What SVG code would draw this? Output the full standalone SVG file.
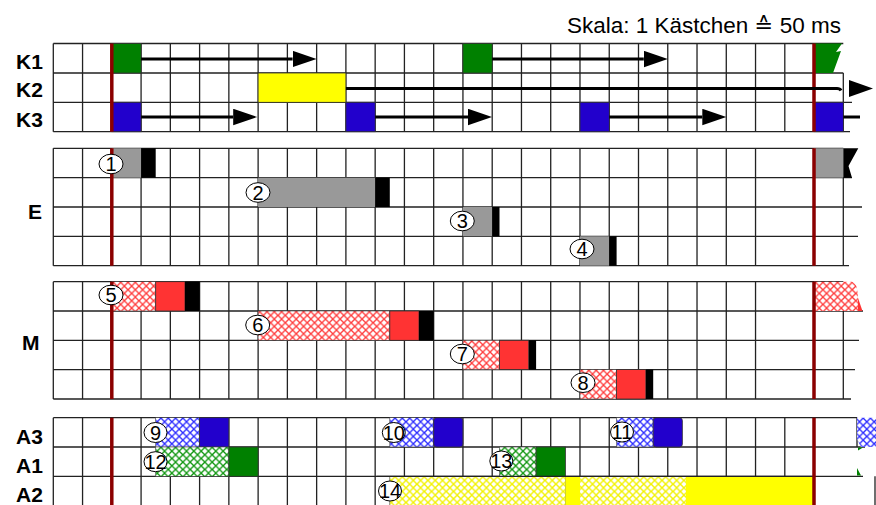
<svg xmlns="http://www.w3.org/2000/svg" width="876" height="505" viewBox="0 0 876 505">
<style>
.g{fill:none;stroke:#222;stroke-width:1.3}
.lbl{font-family:"Liberation Sans",Arial,sans-serif;font-weight:bold;font-size:21px;fill:#000}
.num{font-family:"Liberation Sans",Arial,sans-serif;font-size:20px;fill:#000;text-anchor:middle}
.circ{fill:#fff;stroke:#000;stroke-width:1}
.red{stroke:#8b0000;stroke-width:3.5;fill:none}
.arr{stroke:#000;stroke-width:3;fill:none}
.blk{stroke:#333;stroke-width:0.8}
.hat{stroke:#444;stroke-width:0.6}
.gn{fill:#008000}.bl{fill:#2200cc}.yl{fill:#ffff00}.gy{fill:#999999}.bk{fill:#000}.rd{fill:#ff3333}
</style>
<defs>
<marker id="ah" markerUnits="userSpaceOnUse" markerWidth="25" markerHeight="17" refX="0" refY="8.25" orient="auto"><path d="M0,0L24,8.25L0,16.5z" fill="#000"/></marker>
<pattern id="hr" patternUnits="userSpaceOnUse" width="7.315" height="7.335"><rect width="7.315" height="7.335" fill="#fff"/><path d="M0,0L7.315,7.335M7.315,0L0,7.335" stroke="#ff3b3b" stroke-width="1.3"/></pattern>
<pattern id="hb" patternUnits="userSpaceOnUse" width="7.315" height="7.335"><rect width="7.315" height="7.335" fill="#fff"/><path d="M0,0L7.315,7.335M7.315,0L0,7.335" stroke="#2a2aff" stroke-width="1.3"/></pattern>
<pattern id="hg" patternUnits="userSpaceOnUse" width="7.315" height="7.335"><rect width="7.315" height="7.335" fill="#fff"/><path d="M0,0L7.315,7.335M7.315,0L0,7.335" stroke="#0e960e" stroke-width="1.3"/></pattern>
<pattern id="hy" patternUnits="userSpaceOnUse" width="7.315" height="7.335"><rect width="7.315" height="7.335" fill="#fff"/><path d="M0,0L7.315,7.335M7.315,0L0,7.335" stroke="#f2f200" stroke-width="1.4"/></pattern>
</defs>
<rect width="876" height="505" fill="#fff"/>

<text x="567" y="33" font-family="Liberation Sans, DejaVu Sans, sans-serif" font-size="22.5" fill="#000">Skala: 1 Kästchen ≙ 50 ms</text>

<g id="labels">
<text class="lbl" x="16" y="68.5">K1</text>
<text class="lbl" x="16" y="97">K2</text>
<text class="lbl" x="16" y="126.5">K3</text>
<text class="lbl" x="28" y="218.5">E</text>
<text class="lbl" x="22" y="350">M</text>
<text class="lbl" x="16" y="444">A3</text>
<text class="lbl" x="16" y="473">A1</text>
<text class="lbl" x="16" y="501.5">A2</text>
</g>

<g id="grid">
<path class="g" d="M53.3,43.5H843.3M53.3,73H843.3M53.3,102.3H852M53.3,131.7H850
M53.3,43.5v88.2m29.26,-88.2v88.2m29.26,-88.2v88.2m29.26,-88.2v88.2m29.26,-88.2v88.2m29.26,-88.2v88.2m29.26,-88.2v88.2m29.26,-88.2v88.2m29.26,-88.2v88.2m29.26,-88.2v88.2m29.26,-88.2v88.2m29.26,-88.2v88.2m29.26,-88.2v88.2m29.26,-88.2v88.2m29.26,-88.2v88.2m29.26,-88.2v88.2m29.26,-88.2v88.2m29.26,-88.2v88.2m29.26,-88.2v88.2m29.26,-88.2v88.2m29.26,-88.2v88.2m29.26,-88.2v88.2m29.26,-88.2v88.2m29.26,-88.2v88.2m29.26,-88.2v88.2m29.26,-88.2v88.2M843.3,73V131.7"/>
<path class="g" d="M53.3,148.3H843.3M53.3,177.7H852M53.3,207H862M53.3,236.3H858M53.3,265.7H849
M53.3,148.3v117.4m29.26,-117.4v117.4m29.26,-117.4v117.4m29.26,-117.4v117.4m29.26,-117.4v117.4m29.26,-117.4v117.4m29.26,-117.4v117.4m29.26,-117.4v117.4m29.26,-117.4v117.4m29.26,-117.4v117.4m29.26,-117.4v117.4m29.26,-117.4v117.4m29.26,-117.4v117.4m29.26,-117.4v117.4m29.26,-117.4v117.4m29.26,-117.4v117.4m29.26,-117.4v117.4m29.26,-117.4v117.4m29.26,-117.4v117.4m29.26,-117.4v117.4m29.26,-117.4v117.4m29.26,-117.4v117.4m29.26,-117.4v117.4m29.26,-117.4v117.4m29.26,-117.4v117.4M843.3,177.7V265.7"/>
<path class="g" d="M53.3,281.7H843.3M53.3,311H863M53.3,340.3H859M53.3,369.6H855M53.3,399H851
M53.3,281.7v117.3m29.26,-117.3v117.3m29.26,-117.3v117.3m29.26,-117.3v117.3m29.26,-117.3v117.3m29.26,-117.3v117.3m29.26,-117.3v117.3m29.26,-117.3v117.3m29.26,-117.3v117.3m29.26,-117.3v117.3m29.26,-117.3v117.3m29.26,-117.3v117.3m29.26,-117.3v117.3m29.26,-117.3v117.3m29.26,-117.3v117.3m29.26,-117.3v117.3m29.26,-117.3v117.3m29.26,-117.3v117.3m29.26,-117.3v117.3m29.26,-117.3v117.3m29.26,-117.3v117.3m29.26,-117.3v117.3m29.26,-117.3v117.3m29.26,-117.3v117.3m29.26,-117.3v117.3M843.3,311V399"/>
<path class="g" d="M53.3,417.7H857M53.3,447H865M53.3,476.3H863
M53.3,417.7v88m29.26,-88v88m29.26,-88v88m29.26,-88v88m29.26,-88v88m29.26,-88v88m29.26,-88v88m29.26,-88v88m29.26,-88v88m29.26,-88v88m29.26,-88v88m29.26,-88v88m29.26,-88v88m29.26,-88v88m29.26,-88v88m29.26,-88v88m29.26,-88v88m29.26,-88v88m29.26,-88v88m29.26,-88v88m29.26,-88v88m29.26,-88v88m29.26,-88v88m29.26,-88v88m29.26,-88v88m29.26,-88v88M857,417.7V447M875,476.3V505.7"/>
</g>

<g id="K">
<rect class="gn blk" x="111.8" y="43.5" width="29.3" height="29.5"/>
<rect class="gn blk" x="462.9" y="43.5" width="29.3" height="29.5"/>
<polygon class="gn" points="814,43.5 842,43.5 836,52 841,51 833,73 814,73"/>
<rect class="yl blk" x="258.1" y="73" width="87.8" height="29.3"/>
<rect class="bl blk" x="111.8" y="102.3" width="29.3" height="29.4"/>
<rect class="bl blk" x="345.9" y="102.3" width="29.3" height="29.4"/>
<rect class="bl blk" x="580" y="102.3" width="29.3" height="29.4"/>
<rect class="bl blk" x="814" y="102.3" width="29.3" height="29.4"/>
</g>

<g id="E">
<rect class="gy" x="111.8" y="148.3" width="29.3" height="29.4"/><rect class="bk" x="141.1" y="148.3" width="14.6" height="29.4"/>
<rect class="gy" x="258.1" y="177.7" width="117.1" height="29.3"/><rect class="bk" x="375.2" y="177.7" width="14.6" height="29.3"/>
<rect class="gy" x="462.9" y="207" width="29.3" height="29.3"/><rect class="bk" x="492.2" y="207" width="7.3" height="29.3"/>
<rect class="gy" x="580" y="236.3" width="29.2" height="29.4"/><rect class="bk" x="609.2" y="236.3" width="7.4" height="29.4"/>
<rect class="gy" x="814" y="148.3" width="29.3" height="29.4"/>
<polygon class="bk" points="843.3,148.3 858.3,148.3 848.5,166 852,177.7 843.3,177.7"/>
</g>

<g id="M">
<rect fill="url(#hr)" class="hat" x="111.8" y="281.7" width="43.9" height="29.3"/><rect class="rd blk" x="155.7" y="281.7" width="29.3" height="29.3"/><rect class="bk" x="185" y="281.7" width="14.6" height="29.3"/>
<rect fill="url(#hr)" class="hat" x="258.1" y="311" width="131.7" height="29.3"/><rect class="rd blk" x="389.8" y="311" width="29.2" height="29.3"/><rect class="bk" x="419" y="311" width="14.7" height="29.3"/>
<rect fill="url(#hr)" class="hat" x="462.9" y="340.3" width="36.6" height="29.3"/><rect class="rd blk" x="499.5" y="340.3" width="29.3" height="29.3"/><rect class="bk" x="528.8" y="340.3" width="7.3" height="29.3"/>
<rect fill="url(#hr)" class="hat" x="580" y="369.6" width="36.6" height="29.4"/><rect class="rd blk" x="616.6" y="369.6" width="29.3" height="29.4"/><rect class="bk" x="645.9" y="369.6" width="7.3" height="29.4"/>
<path fill="url(#hr)" d="M814,281.7H852Q857.5,283 858,296V311H814Z"/>
<polygon class="rd" points="858,298 862.5,311 858,311"/>
</g>

<g id="A">
<rect fill="url(#hb)" class="hat" x="155.7" y="417.7" width="43.9" height="29.3"/><rect class="bl blk" x="199.6" y="417.7" width="29.3" height="29.3"/>
<rect fill="url(#hb)" class="hat" x="389.8" y="417.7" width="43.9" height="29.3"/><rect class="bl blk" x="433.7" y="417.7" width="29.2" height="29.3" rx="3"/>
<rect fill="url(#hb)" class="hat" x="616.6" y="417.7" width="36.6" height="29.3"/><rect class="bl blk" x="653.2" y="417.7" width="29.2" height="29.3" rx="3"/>
<polygon fill="url(#hb)" points="857,417.7 876,417.7 876,447 861,447 857,439"/>
<rect fill="url(#hg)" class="hat" x="155.7" y="447" width="73.2" height="29.3"/><rect class="gn blk" x="228.9" y="447" width="29.2" height="29.3"/>
<rect fill="url(#hg)" class="hat" x="499.5" y="447" width="36.6" height="29.3"/><rect class="gn blk" x="536.1" y="447" width="29.3" height="29.3"/>
<polygon class="gn" points="858,447.5 863,447.5 858,450.5"/>
<polygon class="gn" points="857,468 861,475.5 857,475.5"/>
<rect fill="url(#hy)" class="hat" x="389.8" y="476.3" width="175.6" height="29.4"/><rect class="yl" x="565.4" y="476.3" width="14.6" height="29.4"/>
<rect fill="url(#hy)" x="580" y="476.3" width="106" height="29.4"/><rect class="yl" x="686" y="476.3" width="128" height="29.4"/>
<path class="g" d="M376.5,476.3H814"/>
</g>

<g id="markers">
<path class="red" d="M111.8,43.5V131.7M111.8,148.3V265.7M111.8,281.7V399M111.8,417.7V505"/>
<path class="red" d="M814,43.5V131.7M814,148.3V265.7M814,281.7V399M814,417.7V505"/>
</g>

<g id="connectors">
<line class="arr" x1="141.1" y1="59" x2="292.6" y2="59" marker-end="url(#ah)"/>
<line class="arr" x1="492.2" y1="59" x2="643.8" y2="59" marker-end="url(#ah)"/>
<path class="arr" d="M345.9,88.5H837Q840,88.5 841,90.5"/>
<polygon class="bk" points="849,80 873,88.5 849,97"/>
<line class="arr" x1="141.1" y1="117" x2="233.2" y2="117" marker-end="url(#ah)"/>
<line class="arr" x1="375.2" y1="117" x2="468" y2="117" marker-end="url(#ah)"/>
<line class="arr" x1="609.3" y1="117" x2="702.3" y2="117" marker-end="url(#ah)"/>
<line class="arr" x1="843.3" y1="117" x2="860" y2="117"/>
</g>

<g id="steps">
<g id="s1"><ellipse class="circ" cx="111" cy="164" rx="12" ry="9.8"/><text class="num" x="111" y="171">1</text></g>
<g id="s2"><ellipse class="circ" cx="258" cy="192.5" rx="12" ry="9.8"/><text class="num" x="258" y="199.5">2</text></g>
<g id="s3"><ellipse class="circ" cx="462.3" cy="221" rx="12" ry="9.8"/><text class="num" x="462.3" y="228">3</text></g>
<g id="s4"><ellipse class="circ" cx="582" cy="249" rx="12" ry="9.8"/><text class="num" x="582" y="256">4</text></g>
<g id="s5"><ellipse class="circ" cx="111" cy="295" rx="12" ry="9.8"/><text class="num" x="111" y="302">5</text></g>
<g id="s6"><ellipse class="circ" cx="257.7" cy="325" rx="12" ry="9.8"/><text class="num" x="257.7" y="332">6</text></g>
<g id="s7"><ellipse class="circ" cx="462.3" cy="354" rx="12" ry="9.8"/><text class="num" x="462.3" y="361">7</text></g>
<g id="s8"><ellipse class="circ" cx="583" cy="382.7" rx="12" ry="9.8"/><text class="num" x="583" y="389.7">8</text></g>
<g id="s9"><ellipse class="circ" cx="155.5" cy="432.5" rx="11.5" ry="10"/><text class="num" x="155.5" y="439.5">9</text></g>
<g id="s10"><ellipse class="circ" cx="393.8" cy="432.5" rx="11.5" ry="10"/><text class="num" x="393.8" y="439.5">10</text></g>
<g id="s11"><ellipse class="circ" cx="622" cy="432" rx="11.5" ry="10"/><text class="num" x="622" y="439">11</text></g>
<g id="s12"><ellipse class="circ" cx="155.5" cy="461.7" rx="11.5" ry="10"/><text class="num" x="155.5" y="468.7">12</text></g>
<g id="s13"><ellipse class="circ" cx="501.3" cy="461" rx="11.5" ry="10"/><text class="num" x="501.3" y="468">13</text></g>
<g id="s14"><ellipse class="circ" cx="390" cy="491" rx="11.5" ry="10"/><text class="num" x="390" y="498">14</text></g>
</g>
</svg>
